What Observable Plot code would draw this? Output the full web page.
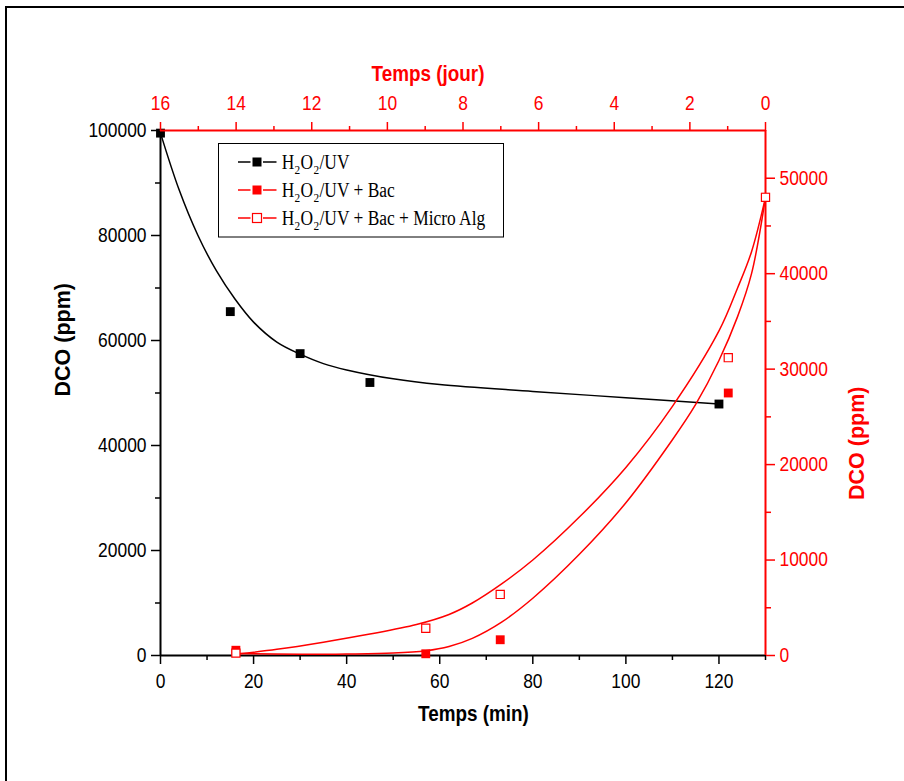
<!DOCTYPE html>
<html><head><meta charset="utf-8">
<script src="https://cdn.jsdelivr.net/npm/d3@7"></script>
<script src="https://cdn.jsdelivr.net/npm/@observablehq/plot@0.6"></script>
<style>
html,body{margin:0;padding:0;width:904px;height:781px;overflow:hidden;background:#fff;}
#wrap{position:relative;width:904px;height:781px;}
#wrap svg{position:absolute;left:0;top:0;}
#frame{position:absolute;left:5px;top:6px;width:1000px;height:1000px;border-left:2px solid #000;border-top:2px solid #000;box-sizing:border-box;}
</style></head>
<body><div id="wrap"><div id="frame"></div></div>
<script>
// ---------- data ----------
// H2O2/UV  (left axis, ppm)
const uvTime = [0, 15, 30, 45, 120];
const uvDCO  = [99500, 65500, 57500, 52000, 47900];
// H2O2/UV + Bac (right axis, ppm)
const bacTime = [16.2, 57, 73, 122, 130];
const bacDCO  = [550, 180, 1650, 27500, 48000];
// H2O2/UV + Bac + Micro Alg (right axis, ppm)
const algTime = [16.2, 57, 73, 122, 130];
const algDCO  = [250, 2850, 6400, 31200, 48000];
// fitted curves
const uvFitTime = [0, 4, 8, 12, 16, 20, 25, 30, 35, 40, 50, 60, 80, 100, 120];
const uvFitDCO  = [99500, 88700, 80100, 73300, 67900, 63500, 59700, 57400, 55600, 54400, 52700, 51600, 50300, 49100, 47900];
const bacFitTime = [16.5, 30, 40, 50, 57, 62, 67, 73.3, 80, 90, 100, 110, 115, 120, 124, 127, 130];
const bacFitDCO  = [200, 120, 150, 250, 500, 950, 1800, 3500, 6000, 10600, 16000, 22600, 26300, 30900, 35500, 40000, 48000];
const algFitTime = [16.5, 25, 35, 45, 55, 62, 67, 73.3, 80, 90, 100, 110, 120, 124, 127, 130];
const algFitDCO  = [150, 650, 1400, 2250, 3250, 4300, 5500, 7500, 10000, 14500, 19700, 26100, 34000, 38500, 42300, 48000];
// ticks
const minMajor = [0, 20, 40, 60, 80, 100, 120];
const minMinor = [10, 30, 50, 70, 90, 110, 130];
const leftMajor = [0, 20000, 40000, 60000, 80000, 100000];
const leftMinor = [10000, 30000, 50000, 70000, 90000];
const rightMajor = [0, 10000, 20000, 30000, 40000, 50000];
const rightMinor = [5000, 15000, 25000, 35000, 45000];
const dayMajor = [16, 14, 12, 10, 8, 6, 4, 2, 0];
const dayMinor = [15, 13, 11, 9, 7, 5, 3, 1];
const legendLabels = ["H2O2/UV", "H2O2/UV + Bac", "H2O2/UV + Bac + Micro Alg"];

// ---------- helpers ----------
const zip = (t, v) => t.map((d, i) => ({t: d, v: v[i]}));
const SANS = '"Liberation Sans", Arial, Helvetica, sans-serif';
const SERIF = '"Liberation Serif", "Times New Roman", Times, serif';
const W = 904, H = 781;
const M = {marginLeft: 160, marginRight: 139, marginTop: 130, marginBottom: 126};
const RED = "#ff0000";
const SQ = 0.87; // horizontal compression of the source image's text
const baseStyle = {background: "transparent", fontFamily: SANS, fontSize: "20px", overflow: "visible"};
const fmt = d => String(d);
const blank = () => "";

const wrap = document.getElementById("wrap");

// ---------- chart A: left axis, bottom axis, H2O2/UV ----------
const A = Plot.plot({
  width: W, height: H, ...M,
  style: {...baseStyle, color: "black"},
  x: {domain: [0, 130]},
  y: {domain: [0, 100000]},
  marks: [
    Plot.axisX(minMajor, {anchor: "bottom", tickSize: 9, tickPadding: 9, tickFormat: fmt, label: null, strokeWidth: 1.5}),
    Plot.axisX(minMinor, {anchor: "bottom", tickSize: 5, tickFormat: blank, label: null, strokeWidth: 1.5}),
    Plot.axisY(leftMajor, {anchor: "left", tickSize: 9, tickPadding: 5, tickFormat: fmt, label: null, strokeWidth: 1.5}),
    Plot.axisY(leftMinor, {anchor: "left", tickSize: 5, tickFormat: blank, label: null, strokeWidth: 1.5}),
    Plot.ruleX([0], {strokeWidth: 2}),
    Plot.ruleY([0], {strokeWidth: 2}),
    Plot.line(zip(uvFitTime, uvFitDCO), {x: "t", y: "v", curve: "catmull-rom", stroke: "black", strokeWidth: 1.5}),
    Plot.dot(zip(uvTime, uvDCO), {x: "t", y: "v", symbol: "square", r: 5, fill: "black"}),
    Plot.text(["Temps (min)"], {text: d => d, frameAnchor: "bottom", lineAnchor: "bottom", dx: 10.5, dy: 65.5, fontWeight: "bold", fontSize: 21.7, fill: "black"}),
    Plot.text(["DCO (ppm)"], {text: d => d, frameAnchor: "left", rotate: -90, dx: -97, dy: 3.5, fontWeight: "bold", fontSize: 21.5, fill: "black"})
  ]
});

// ---------- chart B: right axis, red series ----------
const B = Plot.plot({
  width: W, height: H, ...M,
  style: {...baseStyle, color: RED},
  x: {domain: [0, 130], axis: null},
  y: {domain: [0, 55000]},
  marks: [
    Plot.axisY(rightMajor, {anchor: "right", tickSize: 9, tickPadding: 5, tickFormat: fmt, label: null, color: RED, strokeWidth: 1.5}),
    Plot.axisY(rightMinor, {anchor: "right", tickSize: 5, tickFormat: blank, label: null, color: RED, strokeWidth: 1.5}),
    Plot.ruleX([130], {stroke: RED, strokeWidth: 2}),
    Plot.ruleY([55000], {stroke: RED, strokeWidth: 2}),
    Plot.line(zip(bacFitTime, bacFitDCO), {x: "t", y: "v", curve: "catmull-rom", stroke: RED, strokeWidth: 1.5}),
    Plot.line(zip(algFitTime, algFitDCO), {x: "t", y: "v", curve: "catmull-rom", stroke: RED, strokeWidth: 1.5}),
    Plot.dot(zip(bacTime, bacDCO), {x: "t", y: "v", symbol: "square", r: 5, fill: RED}),
    Plot.dot(zip(algTime, algDCO), {x: "t", y: "v", symbol: "square", r: 4.6, fill: "white", stroke: RED, strokeWidth: 1.2}),
    Plot.text(["DCO (ppm)"], {text: d => d, frameAnchor: "right", rotate: -90, dx: 91.7, dy: -6.5, fontWeight: "bold", fontSize: 21.5, fill: RED})
  ]
});

// ---------- chart C: top axis in days ----------
const C = Plot.plot({
  width: W, height: H, ...M,
  style: {...baseStyle, color: RED},
  x: {domain: [16, 0]},
  marks: [
    Plot.axisX(dayMajor, {anchor: "top", tickSize: 9, tickPadding: 12, tickFormat: fmt, label: null, color: RED, strokeWidth: 1.5}),
    Plot.axisX(dayMinor, {anchor: "top", tickSize: 5, tickFormat: blank, label: null, color: RED, strokeWidth: 1.5}),
    Plot.text(["Temps (jour)"], {text: d => d, frameAnchor: "top", lineAnchor: "bottom", dx: -35, dy: -50, fontWeight: "bold", fontSize: 21.7, fill: RED})
  ]
});

wrap.append(A, B, C);

// ---------- horizontal compression of texts, as in the source image ----------
function squeeze(root, k) {
  root.querySelectorAll("text").forEach(t => {
    if (!t.textContent.trim()) return;
    if ((t.getAttribute("transform") || "").includes("rotate")) return;
    const w = t.getComputedTextLength();
    if (w > 0) {
      t.setAttribute("textLength", (w * k).toFixed(2));
      t.setAttribute("lengthAdjust", "spacingAndGlyphs");
    }
  });
}
[A, B, C].forEach(s => squeeze(s, SQ));

// ---------- legend ----------
const leg = d3.create("svg").attr("width", W).attr("height", H);
wrap.append(leg.node());
leg.append("rect").attr("x", 218.5).attr("y", 143.5).attr("width", 285).attr("height", 93.5)
  .attr("fill", "white").attr("stroke", "black").attr("stroke-width", 1);
const legStyles = [
  {stroke: "black", fill: "black"},
  {stroke: RED, fill: RED},
  {stroke: RED, fill: "white"}
];
legendLabels.forEach((label, i) => {
  const cy = 162 + i * 28;
  const st = legStyles[i];
  const g = leg.append("g");
  g.append("line").attr("x1", 238).attr("x2", 250.5).attr("y1", cy).attr("y2", cy).attr("stroke", st.stroke).attr("stroke-width", 1.5);
  g.append("line").attr("x1", 263).attr("x2", 276.5).attr("y1", cy).attr("y2", cy).attr("stroke", st.stroke).attr("stroke-width", 1.5);
  g.append("rect").attr("x", 252.5).attr("y", cy - 4.5).attr("width", 9).attr("height", 9)
    .attr("fill", st.fill).attr("stroke", st.stroke).attr("stroke-width", st.fill === "white" ? 1.2 : 0);
  // label: normal runs and subscript "2" runs, laid out in a horizontally compressed group
  const segs = [];
  label.split("2").forEach((p, k) => {
    if (k > 0) segs.push({s: "2", sub: true});
    if (p) segs.push({s: p, sub: false});
  });
  const tg = g.append("g").attr("transform", `translate(281.7,${cy + 6.5}) scale(${SQ},1)`);
  let x = 0;
  segs.forEach(seg => {
    const t = tg.append("text").attr("x", x).attr("y", seg.sub ? 5 : 0)
      .attr("font-family", SERIF).attr("font-size", seg.sub ? 13 : 20).attr("fill", "black")
      .style("white-space", "pre").text(seg.s);
    x += t.node().getComputedTextLength() + 0.4;
  });
});
</script>
</body></html>
